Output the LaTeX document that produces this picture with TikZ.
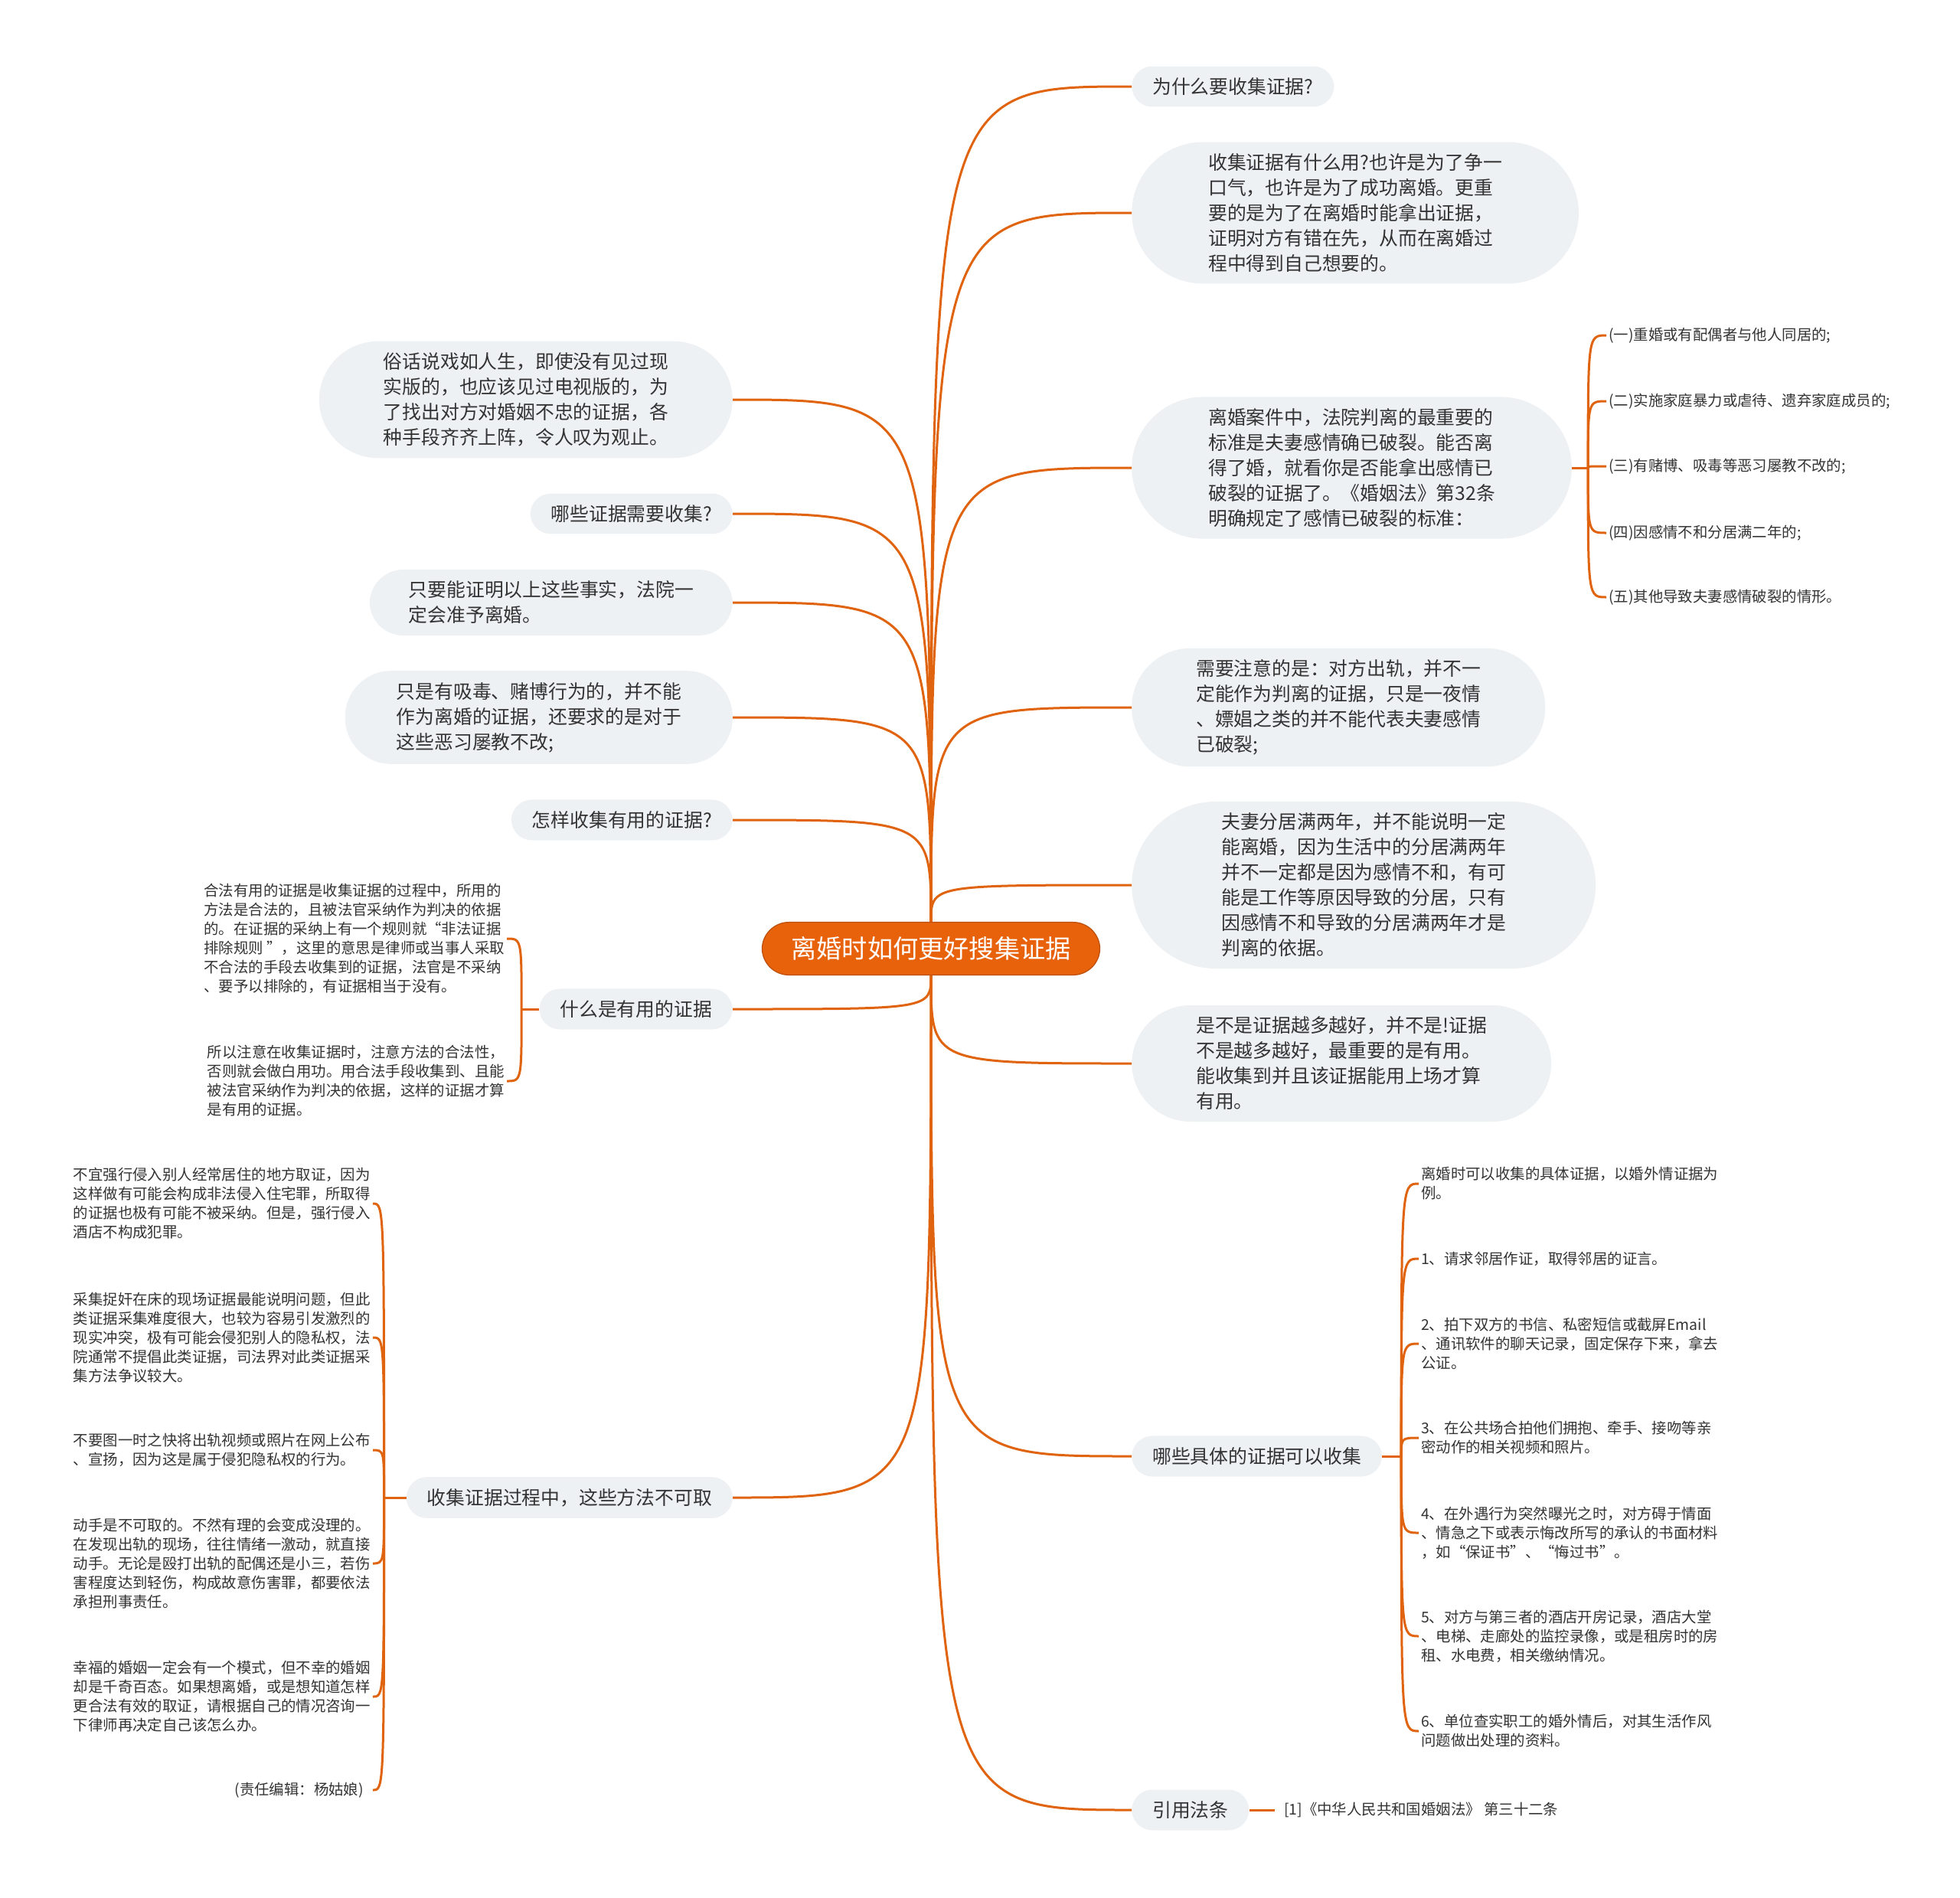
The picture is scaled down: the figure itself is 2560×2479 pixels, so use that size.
\documentclass[tikz,border=0pt]{standalone}
\usepackage{fontspec}
\newfontfamily\cjk{Noto Sans CJK SC}
\definecolor{mapline}{HTML}{E0640F}
\definecolor{rootfill}{HTML}{E8620C}
\definecolor{topicfill}{HTML}{EEF1F4}
\definecolor{inktext}{HTML}{333333}

\begin{document}
\begin{tikzpicture}[x=1pt,y=-1pt,
    root/.style={rectangle,rounded corners=35pt,fill=rootfill,draw=rootfill!80!black,line width=1.2pt,text=white,
      font=\fontsize{33.2pt}{40pt}\selectfont\cjk,inner xsep=38pt,inner ysep=19pt},
    topic/.style={rectangle,rounded corners=#1pt,fill=topicfill,text=inktext,align=left,
      font=\fontsize{24.8pt}{33pt}\selectfont\cjk,inner xsep=#1pt+7pt,inner ysep=15pt},
    topic/.default=27,
    line/.style={topic=#1,inner xsep=#1pt},
    line/.default=27,
    leaf/.style={text=inktext,align=left,
      font=\fontsize{19.4pt}{25pt}\selectfont\cjk,inner xsep=3pt,inner ysep=2pt},
    link/.style={draw=mapline,line width=3pt}]
    \path[use as bounding box,fill=white] (0,0) rectangle (2560,2479);

    \node[root] (ctr) at (1216,1239) {离婚时如何更好搜集证据};

    % right side
    \node[line,anchor=west] (why) at (1478,113) {为什么要收集证据?};
    \node[topic=93,anchor=west] (use) at (1478,278) {收集证据有什么用?也许是为了争一\\口气，也许是为了成功离婚。更重\\要的是为了在离婚时能拿出证据，\\证明对方有错在先，从而在离婚过\\程中得到自己想要的。};
    \node[topic=93,anchor=west] (standard) at (1478,611) {离婚案件中，法院判离的最重要的\\标准是夫妻感情确已破裂。能否离\\得了婚，就看你是否能拿出感情已\\破裂的证据了。《婚姻法》第32条\\明确规定了感情已破裂的标准：};
    \node[topic=77,anchor=west] (notice) at (1478,924) {需要注意的是：对方出轨，并不一\\定能作为判离的证据，只是一夜情\\、嫖娼之类的并不能代表夫妻感情\\已破裂;};
    \node[topic=110,anchor=west] (apart) at (1478,1156) {夫妻分居满两年，并不能说明一定\\能离婚，因为生活中的分居满两年\\并不一定都是因为感情不和，有可\\能是工作等原因导致的分居，只有\\因感情不和导致的分居满两年才是\\判离的依据。};
    \node[topic=77,anchor=west] (more) at (1478,1389) {是不是证据越多越好，并不是!证据\\不是越多越好，最重要的是有用。\\能收集到并且该证据能用上场才算\\有用。};
    \node[line,anchor=west] (which) at (1478,1902) {哪些具体的证据可以收集};
    \node[line,anchor=west] (law) at (1478,2364) {引用法条};

    \node[leaf,anchor=west] (std1) at (2098,438) {(一)重婚或有配偶者与他人同居的;};
    \node[leaf,anchor=west] (std2) at (2098,524) {(二)实施家庭暴力或虐待、遗弃家庭成员的;};
    \node[leaf,anchor=west] (std3) at (2098,609) {(三)有赌博、吸毒等恶习屡教不改的;};
    \node[leaf,anchor=west] (std4) at (2098,696) {(四)因感情不和分居满二年的;};
    \node[leaf,anchor=west] (std5) at (2098,780) {(五)其他导致夫妻感情破裂的情形。};

    \node[leaf,anchor=west] (item0) at (1853,1546) {离婚时可以收集的具体证据，以婚外情证据为\\例。};
    \node[leaf,anchor=west] (item1) at (1853,1644) {1、请求邻居作证，取得邻居的证言。};
    \node[leaf,anchor=west] (item2) at (1853,1755) {2、拍下双方的书信、私密短信或截屏Email\\、通讯软件的聊天记录，固定保存下来，拿去\\公证。};
    \node[leaf,anchor=west] (item3) at (1853,1878) {3、在公共场合拍他们拥抱、牵手、接吻等亲\\密动作的相关视频和照片。};
    \node[leaf,anchor=west] (item4) at (1853,2002) {4、在外遇行为突然曝光之时，对方碍于情面\\、情急之下或表示悔改所写的承认的书面材料\\，如“保证书”、“悔过书”。};
    \node[leaf,anchor=west] (item5) at (1853,2137) {5、对方与第三者的酒店开房记录，酒店大堂\\、电梯、走廊处的监控录像，或是租房时的房\\租、水电费，相关缴纳情况。};
    \node[leaf,anchor=west] (item6) at (1853,2261) {6、单位查实职工的婚外情后，对其生活作风\\问题做出处理的资料。};

    \node[leaf,anchor=west,inner xsep=12pt] (cite) at (1665,2364) {[1]《中华人民共和国婚姻法》 第三十二条};

    % left side
    \node[topic=77,anchor=east] (saying) at (957,522) {俗话说戏如人生，即使没有见过现\\实版的，也应该见过电视版的，为\\了找出对方对婚姻不忠的证据，各\\种手段齐齐上阵，令人叹为观止。};
    \node[line,anchor=east] (needed) at (957,671) {哪些证据需要收集?};
    \node[topic=44,anchor=east] (prove) at (957,787) {只要能证明以上这些事实，法院一\\定会准予离婚。};
    \node[topic=60,anchor=east] (habit) at (957,937) {只是有吸毒、赌博行为的，并不能\\作为离婚的证据，还要求的是对于\\这些恶习屡教不改;};
    \node[line,anchor=east] (howto) at (957,1071) {怎样收集有用的证据?};
    \node[line,anchor=east] (useful) at (957,1318) {什么是有用的证据};
    \node[line,anchor=east] (avoid) at (957,1956) {收集证据过程中，这些方法不可取};

    \node[leaf,anchor=east] (rule1) at (662,1226) {合法有用的证据是收集证据的过程中，所用的\\方法是合法的，且被法官采纳作为判决的依据\\的。在证据的采纳上有一个规则就“非法证据\\排除规则 ”，这里的意思是律师或当事人采取\\不合法的手段去收集到的证据，法官是不采纳\\、要予以排除的，有证据相当于没有。};
    \node[leaf,anchor=east] (rule2) at (662,1412) {所以注意在收集证据时，注意方法的合法性，\\否则就会做白用功。用合法手段收集到、且能\\被法官采纳作为判决的依据，这样的证据才算\\是有用的证据。};

    \node[leaf,anchor=east] (bad1) at (487,1572) {不宜强行侵入别人经常居住的地方取证，因为\\这样做有可能会构成非法侵入住宅罪，所取得\\的证据也极有可能不被采纳。但是，强行侵入\\酒店不构成犯罪。};
    \node[leaf,anchor=east] (bad2) at (487,1747) {采集捉奸在床的现场证据最能说明问题，但此\\类证据采集难度很大，也较为容易引发激烈的\\现实冲突，极有可能会侵犯别人的隐私权，法\\院通常不提倡此类证据，司法界对此类证据采\\集方法争议较大。};
    \node[leaf,anchor=east] (bad3) at (487,1894) {不要图一时之快将出轨视频或照片在网上公布\\、宣扬，因为这是属于侵犯隐私权的行为。};
    \node[leaf,anchor=east] (bad4) at (487,2042) {动手是不可取的。不然有理的会变成没理的。\\在发现出轨的现场，往往情绪一激动，就直接\\动手。无论是殴打出轨的配偶还是小三，若伤\\害程度达到轻伤，构成故意伤害罪，都要依法\\承担刑事责任。};
    \node[leaf,anchor=east] (bad5) at (487,2216) {幸福的婚姻一定会有一个模式，但不幸的婚姻\\却是千奇百态。如果想离婚，或是想知道怎样\\更合法有效的取证，请根据自己的情况咨询一\\下律师再决定自己该怎么办。};
    \node[leaf,anchor=east,inner xsep=12pt] (editor) at (487,2338) {(责任编辑：杨姑娘)};

    % junctions of the brackets
    \coordinate (stdj) at ([xshift=21pt]standard.east);
    \coordinate (whichj) at ([xshift=25pt]which.east);
    \coordinate (usefulj) at ([xshift=-23pt]useful.west);
    \coordinate (avoidj) at ([xshift=-29pt]avoid.west);

    % main branches
    \foreach \n in {why,use,standard,notice,apart}
        \draw[link] (ctr.north) .. controls (ctr.north |- \n.west) .. (\n.west);
    \foreach \n in {more,which,law}
        \draw[link] (ctr.south) .. controls (ctr.south |- \n.west) .. (\n.west);
    \foreach \n in {saying,needed,prove,habit,howto}
        \draw[link] (ctr.north) .. controls (ctr.north |- \n.east) .. (\n.east);
    \foreach \n in {useful,avoid}
        \draw[link] (ctr.south) .. controls (ctr.south |- \n.east) .. (\n.east);

    % sub branches
    \draw[link] (standard.east) -- (stdj);
    \foreach \i in {1,...,5}
        \draw[link] (stdj) .. controls (stdj |- std\i.west) .. (std\i.west);
    \draw[link] (which.east) -- (whichj);
    \foreach \i in {0,...,6}
        \draw[link] (whichj) .. controls (whichj |- item\i.west) .. (item\i.west);
    \draw[link] (law.east) -- (cite.west);
    \draw[link] (useful.west) -- (usefulj);
    \foreach \i in {1,2}
        \draw[link] (usefulj) .. controls (usefulj |- rule\i.east) .. (rule\i.east);
    \draw[link] (avoid.west) -- (avoidj);
    \foreach \n in {bad1,bad2,bad3,bad4,bad5,editor}
        \draw[link] (avoidj) .. controls (avoidj |- \n.east) .. (\n.east);
\end{tikzpicture}
\end{document}
